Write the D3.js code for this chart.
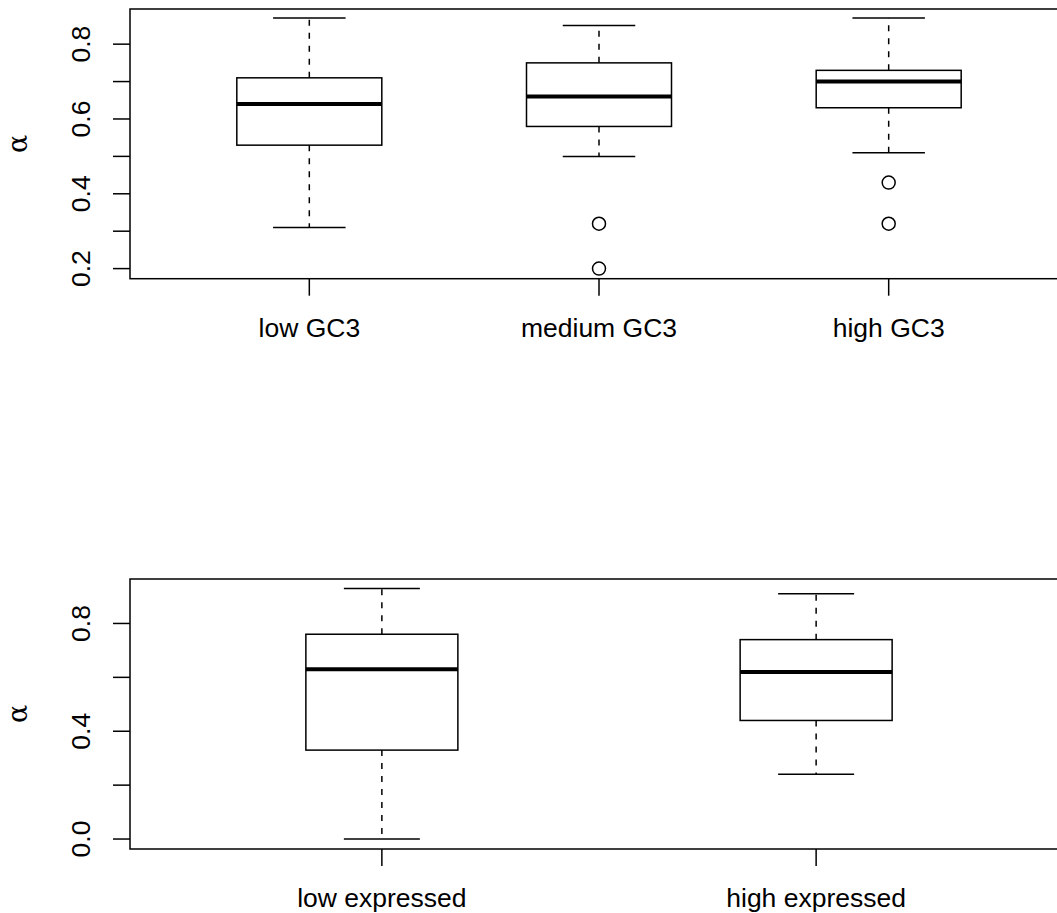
<!DOCTYPE html>
<html lang="en">
<head>
  <meta charset="UTF-8" />
  <title>Alpha by GC3 and expression</title>
  <script src="https://d3js.org/d3.v7.min.js"></script>
  <style>
    body { margin: 0; background: #fff; }
    svg { display: block; font-family: "Liberation Sans", Arial, sans-serif; }
  </style>
</head>
<body>
  <svg id="chart" width="1057" height="913"></svg>
  <script>
    // top panel: alpha by GC3 class
    const gcGroups = ["low GC3", "medium GC3", "high GC3"];
    const gcLowWhisker = [0.31, 0.50, 0.51];
    const gcQ1 = [0.53, 0.58, 0.63];
    const gcMedian = [0.64, 0.66, 0.70];
    const gcQ3 = [0.71, 0.75, 0.73];
    const gcHighWhisker = [0.87, 0.85, 0.87];
    const gcOutliers = [[], [0.32, 0.20], [0.43, 0.32]];
    const gcTicks = [0.2, 0.3, 0.4, 0.5, 0.6, 0.7, 0.8];
    const gcTickLabels = [0.2, 0.4, 0.6, 0.8];

    // bottom panel: alpha by expression level
    const exGroups = ["low expressed", "high expressed"];
    const exLowWhisker = [0.00, 0.24];
    const exQ1 = [0.33, 0.44];
    const exMedian = [0.63, 0.62];
    const exQ3 = [0.76, 0.74];
    const exHighWhisker = [0.93, 0.91];
    const exOutliers = [[], []];
    const exTicks = [0.0, 0.2, 0.4, 0.6, 0.8];
    const exTickLabels = [0.0, 0.4, 0.8];

    const svg = d3.select("#chart");
    const fontSize = 26.5;
    const lw = 1.5;

    function panel(opts) {
      const g = svg.append("g");
      const n = opts.groups.length;
      const x = d3.scaleLinear()
        .domain([1 - opts.pad, n + opts.pad])
        .range([130, 1068]);
      const y = d3.scaleLinear()
        .domain(opts.yDomain)
        .range([opts.bottom, opts.top]);

      // frame (right edge falls outside the picture)
      g.append("rect")
        .attr("x", x.range()[0]).attr("y", opts.top)
        .attr("width", x.range()[1] - x.range()[0])
        .attr("height", opts.bottom - opts.top)
        .attr("fill", "none").attr("stroke", "#000").attr("stroke-width", lw);

      // y axis
      const yAxis = g.append("g");
      yAxis.selectAll("line").data(opts.ticks).join("line")
        .attr("x1", 113).attr("x2", 130)
        .attr("y1", d => y(d)).attr("y2", d => y(d))
        .attr("stroke", "#000").attr("stroke-width", lw);
      yAxis.selectAll("text").data(opts.tickLabels).join("text")
        .attr("transform", d => `translate(90,${y(d)}) rotate(-90)`)
        .attr("text-anchor", "middle")
        .attr("font-size", fontSize)
        .text(d => d.toFixed(1));

      g.append("text")
        .attr("transform", `translate(27,${(opts.top + opts.bottom) / 2}) rotate(-90)`)
        .attr("text-anchor", "middle")
        .attr("font-size", 27)
        .attr("font-family", "'DejaVu Serif', serif")
        .text("α");

      // x axis ticks + labels
      const idx = d3.range(1, n + 1);
      g.selectAll(".xt").data(idx).join("line")
        .attr("x1", d => x(d)).attr("x2", d => x(d))
        .attr("y1", opts.bottom).attr("y2", opts.bottom + 17)
        .attr("stroke", "#000").attr("stroke-width", lw);
      g.selectAll(".xl").data(idx).join("text")
        .attr("x", d => x(d))
        .attr("y", opts.bottom + 58)
        .attr("text-anchor", "middle")
        .attr("font-size", fontSize)
        .text(d => opts.groups[d - 1]);

      // boxes
      const hw = opts.boxHalf;
      idx.forEach((k, i) => {
        const cx = x(k);
        const bg = g.append("g");
        // whiskers, dashed from the box out to the cap
        [[opts.q3[i], opts.hi[i]], [opts.q1[i], opts.lo[i]]].forEach(([a, b]) => {
          bg.append("line")
            .attr("x1", cx).attr("x2", cx)
            .attr("y1", y(a)).attr("y2", y(b))
            .attr("stroke", "#000").attr("stroke-width", lw)
            .attr("stroke-dasharray", "6,7");
          bg.append("line")
            .attr("x1", cx - hw / 2).attr("x2", cx + hw / 2)
            .attr("y1", y(b)).attr("y2", y(b))
            .attr("stroke", "#000").attr("stroke-width", lw);
        });
        bg.append("rect")
          .attr("x", cx - hw).attr("width", 2 * hw)
          .attr("y", y(opts.q3[i])).attr("height", y(opts.q1[i]) - y(opts.q3[i]))
          .attr("fill", "#fff").attr("stroke", "#000").attr("stroke-width", lw);
        bg.append("line")
          .attr("x1", cx - hw).attr("x2", cx + hw)
          .attr("y1", y(opts.med[i])).attr("y2", y(opts.med[i]))
          .attr("stroke", "#000").attr("stroke-width", 4);
        bg.selectAll("circle").data(opts.out[i]).join("circle")
          .attr("cx", cx).attr("cy", d => y(d)).attr("r", 6.5)
          .attr("fill", "none").attr("stroke", "#000").attr("stroke-width", lw);
      });
    }

    panel({
      groups: gcGroups, lo: gcLowWhisker, q1: gcQ1, med: gcMedian, q3: gcQ3,
      hi: gcHighWhisker, out: gcOutliers, ticks: gcTicks, tickLabels: gcTickLabels,
      yDomain: [0.173, 0.894], top: 9, bottom: 278.7, pad: 0.619, boxHalf: 72.5
    });

    panel({
      groups: exGroups, lo: exLowWhisker, q1: exQ1, med: exMedian, q3: exQ3,
      hi: exHighWhisker, out: exOutliers, ticks: exTicks, tickLabels: exTickLabels,
      yDomain: [-0.037, 0.965], top: 579, bottom: 849, pad: 0.58, boxHalf: 76
    });
  </script>
</body>
</html>
